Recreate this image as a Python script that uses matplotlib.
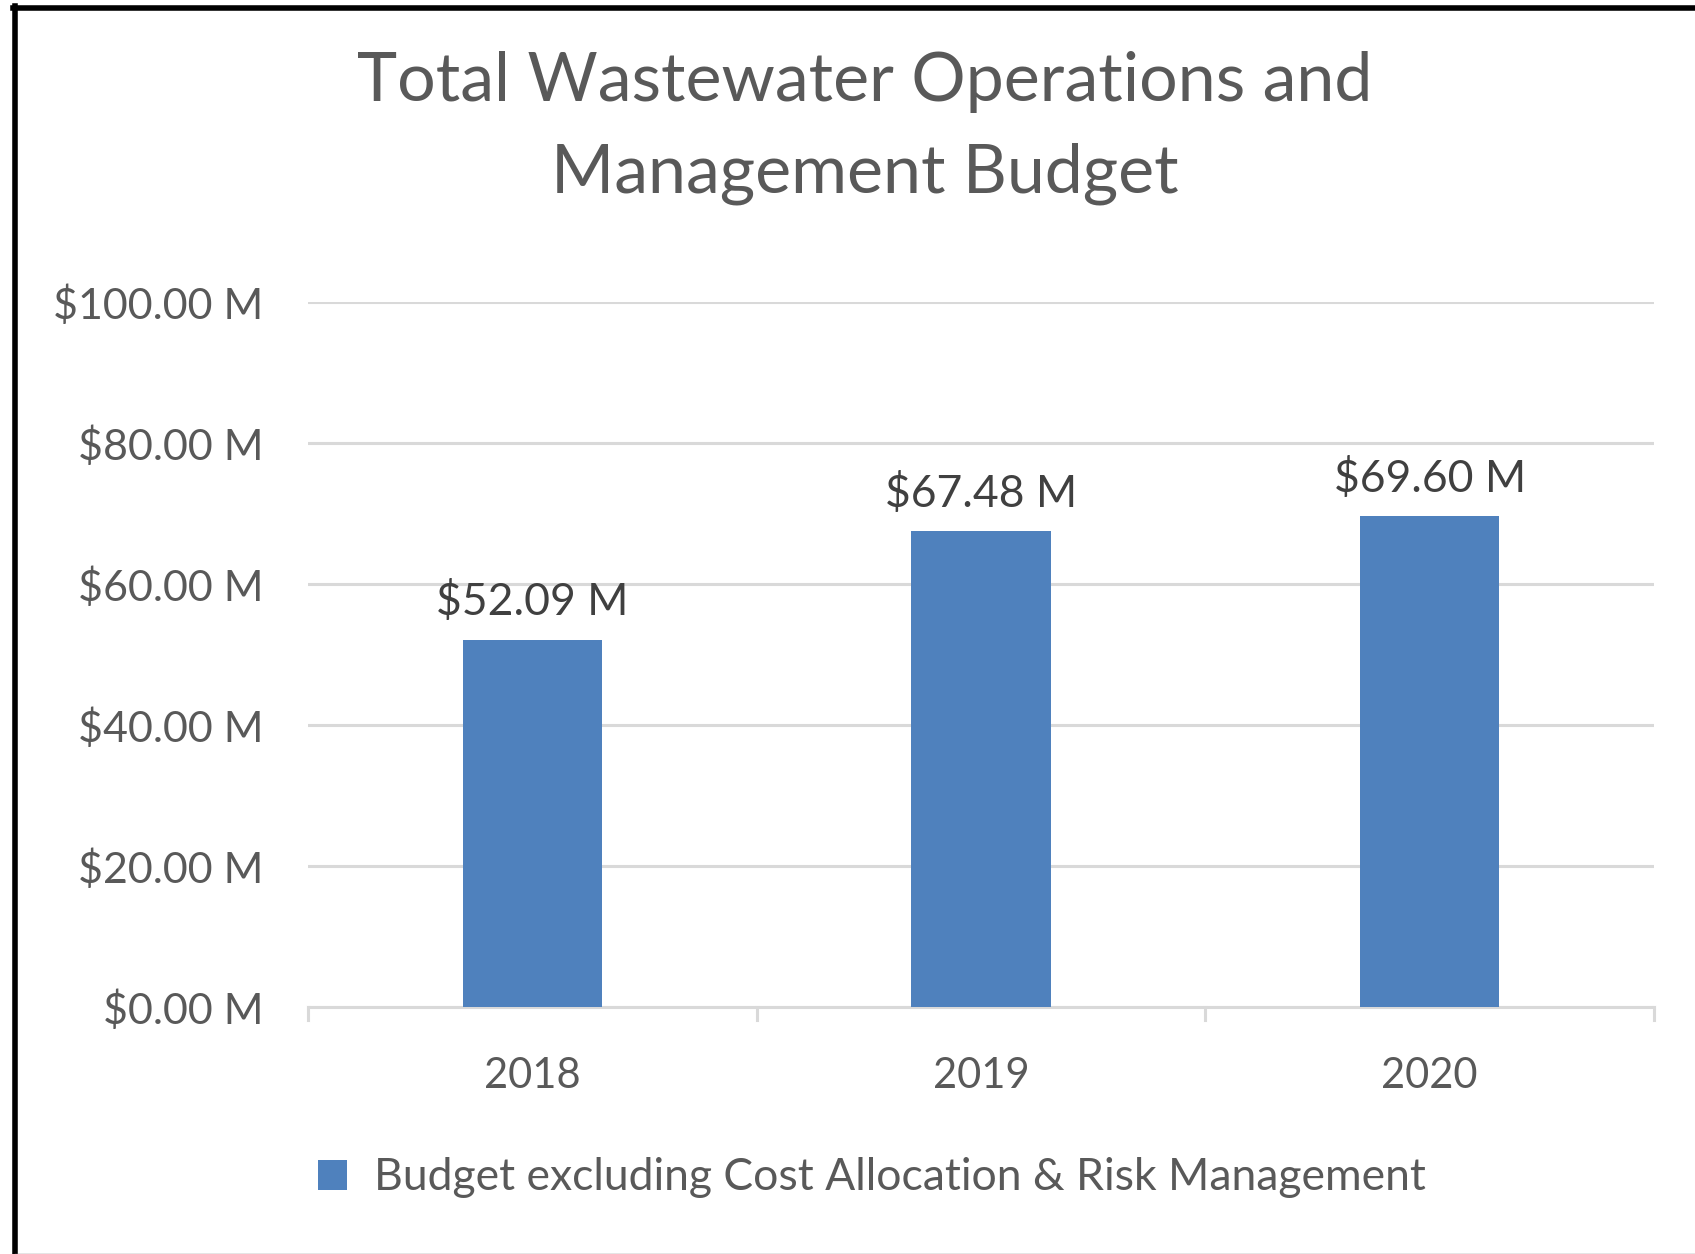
import matplotlib.pyplot as plt
from matplotlib.lines import Line2D

years = ["2018", "2019", "2020"]
budget = [52.09, 67.48, 69.60]
labels = ["$52.09 M", "$67.48 M", "$69.60 M"]
yticks = [0, 20, 40, 60, 80, 100]
series_name = "Budget excluding Cost Allocation & Risk Management"

W, H = 1695, 1254
bar_color = "#4f81bd"
text_color = "#595959"
grid_color = "#d9d9d9"

plt.rcParams['font.family'] = ['Lato', 'DejaVu Sans']

fig = plt.figure(figsize=(W / 100, H / 100), dpi=100)
ax = fig.add_axes([308 / W, 1 - 1007 / H, (1654 - 308) / W, (1007 - 302) / H])

x = range(len(years))
bars = ax.bar(x, budget, width=0.31, color=bar_color, zorder=3, label=series_name)
ax.set_xlim(-0.5, len(years) - 0.5)
ax.set_ylim(0, 100)
ax.set_yticks(yticks)
ax.set_yticklabels(["${:.2f} M".format(v) for v in yticks])
ax.set_xticks(list(x))
ax.set_xticklabels(years)
ax.tick_params(axis='both', length=0, labelsize=30, colors=text_color)
ax.tick_params(axis='y', pad=32, labelsize=31)
ax.tick_params(axis='x', pad=36)
ax.grid(axis='y', color=grid_color, linewidth=2.2, zorder=0)
for s in ['top', 'right', 'left']:
    ax.spines[s].set_visible(False)
ax.spines['bottom'].set_color(grid_color)
ax.spines['bottom'].set_linewidth(2.2)

# small category separator ticks below the axis
for b in [-0.5, 0.5, 1.5, 2.5]:
    ax.plot([b, b], [0, -1.8], color=grid_color, linewidth=2.2, clip_on=False, zorder=2)

for rect, lab in zip(bars, labels):
    ax.annotate(lab, (rect.get_x() + rect.get_width() / 2, rect.get_height()),
                xytext=(0, 12), textcoords='offset points', ha='center', va='bottom',
                fontsize=32, color="#404040")

fig.text(865 / W, 1 - 82 / H, "Total Wastewater Operations and", ha='center', va='center',
         fontsize=49, color=text_color)
fig.text(865 / W, 1 - 174 / H, "Management Budget", ha='center', va='center',
         fontsize=49, color=text_color)

leg = fig.legend(handles=[bars], labels=[series_name], loc='center', bbox_to_anchor=(872 / W, 1 - 1178 / H),
                 frameon=False, fontsize=32, handlelength=0.65, handleheight=0.65, handletextpad=0.6)
for t in leg.get_texts():
    t.set_color(text_color)

# chart frame: heavy black on top and left, thin grey at bottom
fig.add_artist(Line2D([15 / W, 15 / W], [0, 1 - 6 / H], color='black', linewidth=4))
fig.add_artist(Line2D([13 / W, 1], [1 - 8 / H, 1 - 8 / H], color='black', linewidth=4))
fig.add_artist(Line2D([15 / W, 1], [0.5 / H, 0.5 / H], color='#7f7f7f', linewidth=1))

fig.savefig("out.png", dpi=100, facecolor='white')
